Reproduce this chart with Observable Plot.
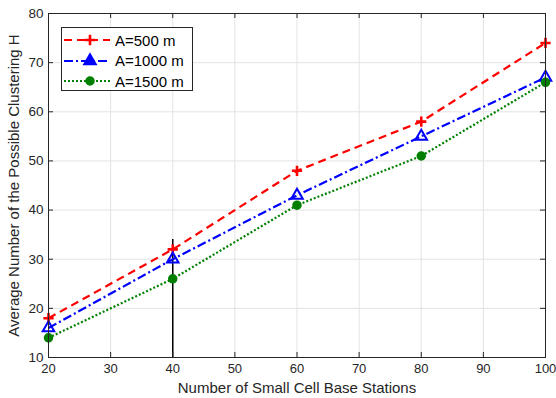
<!DOCTYPE html>
<html>
<head>
<meta charset="utf-8">
<script src="https://cdn.jsdelivr.net/npm/d3@7"></script>
<script src="https://cdn.jsdelivr.net/npm/@observablehq/plot@0.6"></script>
<style>
  body { margin: 0; background: #fff; }
  #wrap { position: relative; width: 556px; height: 398px; font-family: "Liberation Sans", Arial, sans-serif; }
  #legend { position: absolute; left: 61px; top: 27px; width: 132px; height: 64px; border: 1px solid #262626; background: #fff; box-sizing: border-box; }
  .row { position: absolute; left: 0; height: 20px; display: flex; align-items: center; }
  .row span { font-size: 15px; color: #000; margin-left: 3px; }
</style>
</head>
<body>
<div id="wrap"><div id="chart"></div><div id="legend"></div></div>
<script>
// ---- data ----
const stations = [20, 40, 60, 80, 100];
const seriesNames = ["A=500 m", "A=1000 m", "A=1500 m"];
const valuesA500 = [18, 32, 48, 58, 74];
const valuesA1000 = [16, 30, 43, 55, 67];
const valuesA1500 = [14, 26, 41, 51, 66];
const xTicks = [20, 30, 40, 50, 60, 70, 80, 90, 100];
const yTicks = [10, 20, 30, 40, 50, 60, 70, 80];
const verticalRule = [{x: 40, y1: 10, y2: 34}];
const xLabel = "Number of Small Cell Base Stations";
const yLabel = "Average Number of the Possible Clustering H";

// ---- styles ----
const colors = ["#ff0000", "#0000ff", "#007f00"];
const dashes = ["8,5", "9,3,2,3", "2,2"];
const symbols = ["plus", "triangle2", "circle"];
const fills = ["none", "none", "#007f00"];
const radii = [3.4, 5.5, 4];
const widths = [2.6, 2, 1.5];

const allValues = [valuesA500, valuesA1000, valuesA1500];
const rows = [];
allValues.forEach((vals, i) => vals.forEach((v, j) => rows.push({series: seriesNames[i], s: i, x: stations[j], y: v})));

const W = 556, H = 398, mL = 48, mR = 11, mT = 13, mB = 41;
const pw = W - mL - mR, ph = H - mT - mB;
const tl = 5;

const marks = [
  Plot.gridX(xTicks, {stroke: "#e3e3e3", strokeOpacity: 1}),
  Plot.gridY(yTicks, {stroke: "#e3e3e3", strokeOpacity: 1}),
  Plot.ruleX(verticalRule, {x: "x", y1: "y1", y2: "y2", stroke: "#000", strokeWidth: 1.5})
];
seriesNames.forEach((name, i) => {
  const d = rows.filter(r => r.s === i);
  marks.push(Plot.line(d, {x: "x", y: "y", stroke: colors[i], strokeWidth: 2.2, strokeDasharray: dashes[i], strokeLinecap: "butt", strokeLinejoin: "miter"}));
});
seriesNames.forEach((name, i) => {
  const d = rows.filter(r => r.s === i);
  marks.push(Plot.dot(d, {x: "x", y: "y", symbol: () => symbols[i], r: radii[i], stroke: colors[i], fill: fills[i], strokeWidth: widths[i]}));
});
marks.push(
  Plot.frame({stroke: "#262626", strokeWidth: 1}),
  Plot.tickX(xTicks, {x: d => d, stroke: "#262626", insetBottom: ph - tl}),
  Plot.tickX(xTicks, {x: d => d, stroke: "#262626", insetTop: ph - tl}),
  Plot.tickY(yTicks, {y: d => d, stroke: "#262626", insetRight: pw - tl}),
  Plot.tickY(yTicks, {y: d => d, stroke: "#262626", insetLeft: pw - tl}),
  Plot.axisX(xTicks, {tickSize: 0, tickPadding: 6, label: null, fill: "#262626", fontSize: 13}),
  Plot.axisY(yTicks, {tickSize: 0, tickPadding: 5, label: null, fill: "#262626", fontSize: 13.5}),
  Plot.text([xLabel], {text: d => d, frameAnchor: "bottom", dy: 35, fontSize: 15, fill: "#262626"}),
  Plot.text([yLabel], {text: d => d, frameAnchor: "left", textAnchor: "middle", dx: -34, rotate: -90, fontSize: 15, fill: "#262626"})
);

const chart = Plot.plot({
  width: W, height: H,
  marginLeft: mL, marginRight: mR, marginTop: mT, marginBottom: mB,
  x: {domain: [20, 100]},
  y: {domain: [10, 80]},
  style: {fontFamily: "'Liberation Sans', Arial, sans-serif", fontSize: "14px", color: "#262626", background: "#fff", overflow: "visible"},
  marks
});
document.getElementById("chart").appendChild(chart);

// ---- legend ----
const legend = d3.select("#legend");
const symMap = {plus: d3.symbolPlus, triangle2: d3.symbolTriangle2, circle: d3.symbolCircle};
seriesNames.forEach((name, i) => {
  const row = legend.append("div").attr("class", "row").style("top", (2 + i * 20.5) + "px");
  const svg = row.append("svg").attr("width", 50).attr("height", 20);
  svg.append("line").attr("x1", 2).attr("x2", 48).attr("y1", 10).attr("y2", 10)
    .attr("stroke", colors[i]).attr("stroke-width", 2.2).attr("stroke-dasharray", dashes[i]);
  svg.append("path").attr("transform", "translate(28,10)")
    .attr("d", d3.symbol(symMap[symbols[i]], Math.PI * radii[i] * radii[i])())
    .attr("stroke", colors[i]).attr("stroke-width", widths[i]).attr("fill", i === 1 ? colors[i] : fills[i]);
  row.append("span").text(name);
});
</script>
</body>
</html>
